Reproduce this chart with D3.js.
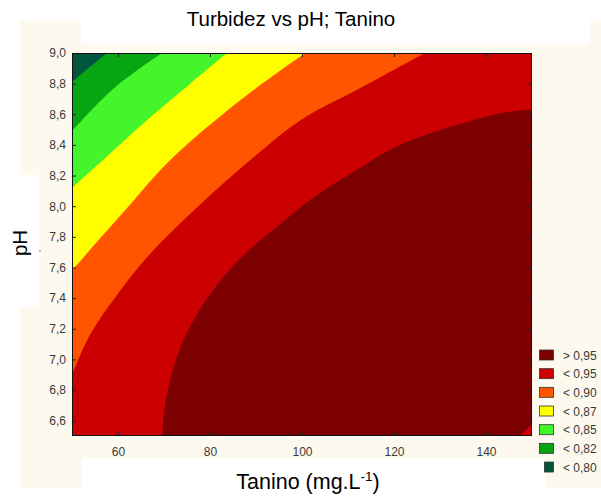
<!DOCTYPE html>
<html>
<head>
<meta charset="utf-8">
<script src="https://cdn.jsdelivr.net/npm/d3@7/dist/d3.min.js"></script>
<style>
  html, body { margin: 0; padding: 0; background: #ffffff; }
  svg { display: block; font-family: "Liberation Sans", Arial, sans-serif; }
</style>
</head>
<body>
<svg id="chart" width="601" height="502"></svg>
<script>
// Axis ticks
const xTicks = [60, 80, 100, 120, 140];
const yTicks = [6.6, 6.8, 7.0, 7.2, 7.4, 7.6, 7.8, 8.0, 8.2, 8.4, 8.6, 8.8, 9.0];

// Legend classes, highest first
const legendLabels = ["> 0,95", "< 0,95", "< 0,90", "< 0,87", "< 0,85", "< 0,82", "< 0,80"];
const legendColors = ["#7d0000", "#cc0000", "#ff5500", "#ffff00", "#44f52c", "#07a512", "#00563c"];

// Iso-lines of turbidity as [tanino, pH] points (top edge -> left edge)
const iso080 = [[57.6, 9.0], [53.9, 8.91], [50, 8.81]];
const iso082 = [[69.6, 9.0], [64.3, 8.89], [59.1, 8.77], [54.3, 8.63], [50, 8.49]];
const iso085 = [[83.7, 9.0], [75.7, 8.80], [67.0, 8.58], [56.7, 8.30], [50, 8.12]];
const iso087 = [[100.7, 9.0], [86.5, 8.69], [71.3, 8.30], [62.6, 8.01], [56.1, 7.79], [50, 7.58]];
const iso090 = [[126.7, 9.0], [112.6, 8.77], [99.6, 8.56], [88.7, 8.30], [77.8, 8.01],
                [67.0, 7.69], [60.0, 7.43], [53.9, 7.16], [50, 6.90]];
// 0,95 iso-line around the maximum (bottom edge -> right edge)
const iso095 = [[69.6, 6.50], [70.4, 6.735], [72.6, 7.00], [76.1, 7.24], [81.1, 7.47],
                [87.6, 7.69], [95.2, 7.88], [101.7, 8.04], [110.4, 8.21], [121.3, 8.40],
                [135.9, 8.55], [144.6, 8.615], [150, 8.63]];
// 0,95 iso-line cutting the lower right corner
const iso095corner = [[147.2, 6.50], [148.7, 6.54], [150, 6.58]];

const xDomain = [50, 150];
const yDomain = [6.5, 9.0];

const svg = d3.select("#chart");

// page backgrounds
svg.append("rect").attr("x", 20).attr("y", 20).attr("width", 581).attr("height", 468).attr("fill", "#fdf9ef");
svg.append("rect").attr("x", 81).attr("y", 0).attr("width", 509).attr("height", 44).attr("fill", "#ffffff");
svg.append("rect").attr("x", 0).attr("y", 175).attr("width", 39).attr("height", 132).attr("fill", "#ffffff");
svg.append("rect").attr("x", 82).attr("y", 458).attr("width", 463).attr("height", 44).attr("fill", "#ffffff");

const plot = { left: 72, top: 53, right: 532, bottom: 436 };
const x = d3.scaleLinear().domain(xDomain).range([plot.left, plot.right]);
const y = d3.scaleLinear().domain(yDomain).range([plot.bottom, plot.top]);

svg.append("clipPath").attr("id", "plotClip")
  .append("rect")
  .attr("x", plot.left).attr("y", plot.top)
  .attr("width", plot.right - plot.left).attr("height", plot.bottom - plot.top);

const bands = svg.append("g").attr("clip-path", "url(#plotClip)");

const curve = d3.line()
  .x(d => x(d[0]))
  .y(d => y(d[1]))
  .curve(d3.curveCatmullRom.alpha(0.5));

// region above an iso-line: follow the line, then close through given corners
function region(points, corners) {
  let p = curve(points);
  corners.forEach(c => { p += "L" + x(c[0]) + "," + y(c[1]); });
  return p + "Z";
}

const lowRight = [[xDomain[0], yDomain[0]], [xDomain[1], yDomain[0]], [xDomain[1], yDomain[1]]];

// lowest class fills the whole field
bands.append("rect")
  .attr("x", plot.left).attr("y", plot.top)
  .attr("width", plot.right - plot.left).attr("height", plot.bottom - plot.top)
  .attr("fill", legendColors[6]);

const stacked = [
  { line: iso080, color: legendColors[5] },
  { line: iso082, color: legendColors[4] },
  { line: iso085, color: legendColors[3] },
  { line: iso087, color: legendColors[2] },
  { line: iso090, color: legendColors[1] }
];
stacked.forEach(s => {
  bands.append("path").attr("d", region(s.line, lowRight)).attr("fill", s.color);
});

bands.append("path")
  .attr("d", region(iso095, [[xDomain[1], yDomain[0]]]))
  .attr("fill", legendColors[0]);
bands.append("path")
  .attr("d", region(iso095corner, [[xDomain[1], yDomain[0]]]))
  .attr("fill", legendColors[1]);

// axes
const comma = d => d3.format(".1f")(d).replace(".", ",");
const tickColor = "#222";

function styleAxis(g) {
  g.select(".domain").remove();
  g.selectAll(".tick line").attr("stroke", tickColor);
  g.selectAll(".tick text")
    .attr("fill", "#3a3a3a")
    .style("font-size", "12px")
    .style("font-family", "'Liberation Sans', Arial, sans-serif");
}

svg.append("g")
  .attr("transform", `translate(0,${plot.bottom})`)
  .call(d3.axisBottom(x).tickValues(xTicks).tickSize(-4).tickPadding(11).tickFormat(d3.format("d")))
  .call(styleAxis);
svg.append("g")
  .attr("transform", `translate(0,${plot.top})`)
  .call(d3.axisTop(x).tickValues(xTicks).tickSize(-4).tickFormat(""))
  .call(styleAxis);
svg.append("g")
  .attr("transform", `translate(${plot.left},0)`)
  .call(d3.axisLeft(y).tickValues(yTicks).tickSize(-4).tickPadding(6).tickFormat(comma))
  .call(styleAxis);
svg.append("g")
  .attr("transform", `translate(${plot.right},0)`)
  .call(d3.axisRight(y).tickValues(yTicks).tickSize(-4).tickFormat(""))
  .call(styleAxis);

// plot frame
svg.append("rect")
  .attr("x", plot.left + 0.5).attr("y", plot.top + 0.5)
  .attr("width", plot.right - plot.left - 1).attr("height", plot.bottom - plot.top - 1)
  .attr("fill", "none").attr("stroke", "#111").attr("stroke-width", 1);

// titles
svg.append("text")
  .attr("x", 291).attr("y", 26)
  .attr("text-anchor", "middle")
  .style("font-size", "20.5px")
  .attr("fill", "#000")
  .text("Turbidez vs pH; Tanino");

const xl = svg.append("text")
  .attr("x", 308).attr("y", 489)
  .attr("text-anchor", "middle")
  .style("font-size", "21.5px")
  .attr("fill", "#000");
xl.append("tspan").text("Tanino (mg.L");
xl.append("tspan").attr("dy", -8).style("font-size", "13.5px").text("-1");
xl.append("tspan").attr("dy", 8).text(")");

svg.append("text")
  .attr("transform", "translate(26.5,243) rotate(-90)")
  .attr("text-anchor", "middle")
  .style("font-size", "20.5px")
  .attr("fill", "#000")
  .text("pH");
svg.append("circle").attr("cx", 40).attr("cy", 251).attr("r", 0.8).attr("fill", "#777");

// legend
const legend = svg.append("g");
legendLabels.forEach((lab, i) => {
  const cy = 355 + i * 18.67;
  const last = i === legendLabels.length - 1;
  legend.append("rect")
    .attr("x", last ? 544.5 : 539.5).attr("y", cy - 5)
    .attr("width", last ? 9 : 14).attr("height", 10)
    .attr("fill", legendColors[i])
    .attr("stroke", "#333").attr("stroke-width", 0.8);
  legend.append("text")
    .attr("x", 563).attr("y", cy + 4.5)
    .style("font-size", "12px")
    .attr("fill", "#3a3a3a")
    .text(lab);
});
</script>
</body>
</html>
